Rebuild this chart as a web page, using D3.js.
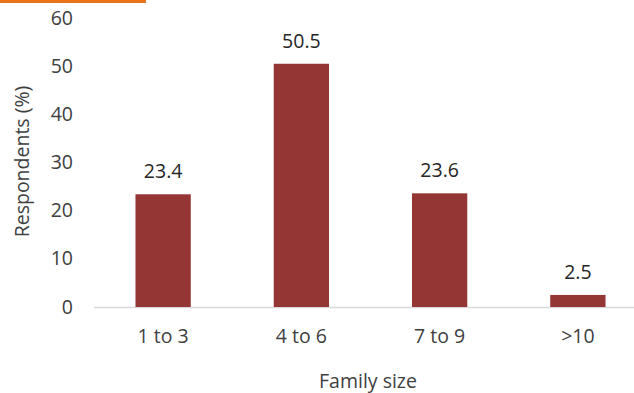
<!DOCTYPE html>
<html>
<head>
<meta charset="utf-8">
<script src="https://cdn.jsdelivr.net/npm/d3@7"></script>
<style>
  body { margin: 0; background: #fff; }
  svg text { font-family: "Open Sans", Lato, sans-serif; }
</style>
</head>
<body>
<svg width="634" height="393"></svg>
<script>
const categories = ['1 to 3', '4 to 6', '7 to 9', '>10'];
const values = [23.4, 50.5, 23.6, 2.5];
const yTicks = [0, 10, 20, 30, 40, 50, 60];

const svg = d3.select('svg');
const width = +svg.attr('width');
const height = +svg.attr('height');

const margin = { top: 18, right: 0, bottom: 86, left: 94 };
const innerWidth = width - margin.left - margin.right;
const innerHeight = height - margin.top - margin.bottom;
const fontSize = 19.5;

// orange accent line in the top-left corner
svg.append('rect')
  .attr('x', 0).attr('y', 0)
  .attr('width', 146).attr('height', 3)
  .attr('fill', '#e8731a');

// band range runs a little past the right edge, as in the original
const xScale = d3.scaleBand()
  .domain(categories)
  .range([0, innerWidth + 13])
  .paddingInner(0.6)
  .paddingOuter(0.3);

const yScale = d3.scaleLinear()
  .domain([0, 60])
  .range([innerHeight, 0]);

const g = svg.append('g')
  .attr('transform', `translate(${margin.left},${margin.top})`);

// y tick labels
g.selectAll('text.ytick')
  .data(yTicks)
  .enter()
  .append('text')
  .attr('class', 'ytick')
  .attr('x', -21)
  .attr('y', d => yScale(d))
  .attr('dy', '0.34em')
  .attr('text-anchor', 'end')
  .attr('font-size', fontSize)
  .attr('fill', '#404040')
  .text(d => d);

// baseline
g.append('line')
  .attr('x1', 0).attr('x2', innerWidth)
  .attr('y1', innerHeight + 0.5).attr('y2', innerHeight + 0.5)
  .attr('stroke', '#d9d9d9')
  .attr('stroke-width', 1.5);

// bars
g.selectAll('rect.bar')
  .data(values)
  .enter()
  .append('rect')
  .attr('class', 'bar')
  .attr('x', (d, i) => xScale(categories[i]))
  .attr('y', d => yScale(d))
  .attr('width', xScale.bandwidth())
  .attr('height', d => innerHeight - yScale(d))
  .attr('fill', '#943634');

// value labels
g.selectAll('text.val')
  .data(values)
  .enter()
  .append('text')
  .attr('class', 'val')
  .attr('x', (d, i) => xScale(categories[i]) + xScale.bandwidth() / 2)
  .attr('y', d => yScale(d) - 16)
  .attr('text-anchor', 'middle')
  .attr('font-size', fontSize)
  .attr('fill', '#262626')
  .text(d => d.toFixed(1));

// x category labels
g.selectAll('text.xtick')
  .data(categories)
  .enter()
  .append('text')
  .attr('class', 'xtick')
  .attr('x', d => xScale(d) + xScale.bandwidth() / 2)
  .attr('y', innerHeight + 36)
  .attr('text-anchor', 'middle')
  .attr('font-size', fontSize)
  .attr('fill', '#404040')
  .text(d => d);

// axis titles
g.append('text')
  .attr('x', 368 - margin.left)
  .attr('y', innerHeight + 81)
  .attr('text-anchor', 'middle')
  .attr('font-size', fontSize)
  .attr('fill', '#404040')
  .text('Family size');

g.append('text')
  .attr('transform', 'rotate(-90)')
  .attr('x', -innerHeight / 2 + 1)
  .attr('y', -65)
  .attr('text-anchor', 'middle')
  .attr('font-size', fontSize)
  .attr('fill', '#404040')
  .text('Respondents (%)');
</script>
</body>
</html>
